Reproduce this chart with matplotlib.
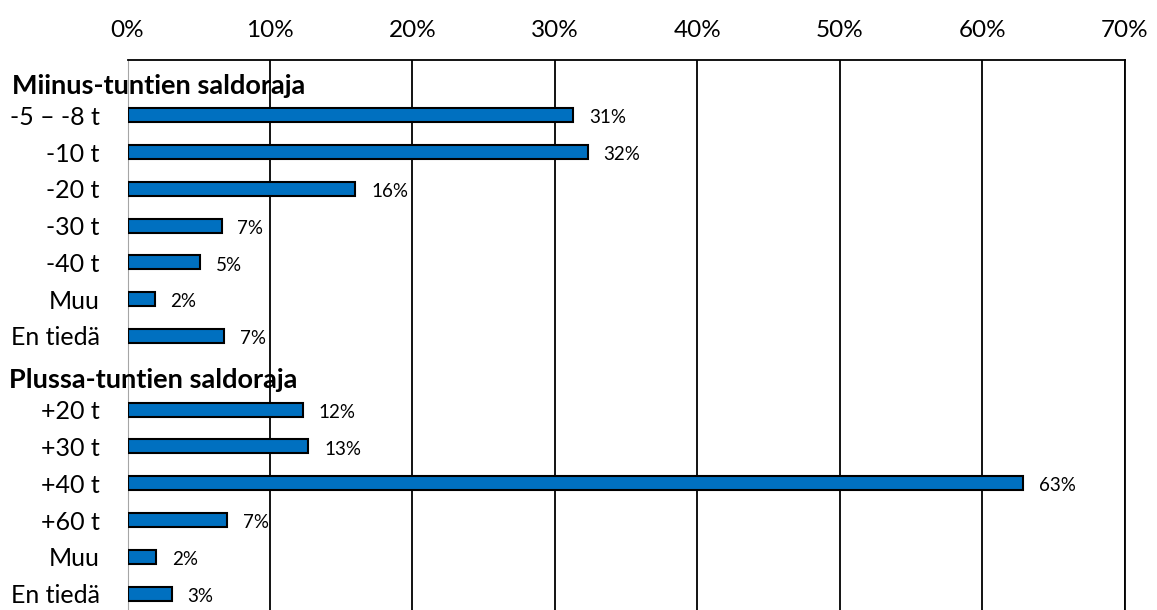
import matplotlib
matplotlib.use("Agg")
import matplotlib.pyplot as plt
from matplotlib.transforms import blended_transform_factory

plt.rcParams['font.family'] = 'Lato'

# rivit ylhäältä alas, otsikkorivit ilman palkkia
categories = ["Miinus-tuntien saldoraja", "-5 – -8 t", "-10 t", "-20 t", "-30 t", "-40 t",
              "Muu", "En tiedä", "Plussa-tuntien saldoraja", "+20 t", "+30 t", "+40 t",
              "+60 t", "Muu", "En tiedä"]
values = [None, 31.3, 32.3, 16.0, 6.6, 5.1, 1.9, 6.8, None, 12.3, 12.7, 62.9, 7.0, 2.0, 3.1]
headers = {0: 12, 8: 9}   # rivi -> vasen reuna pikseleinä
xticks = [0, 10, 20, 30, 40, 50, 60, 70]

fig = plt.figure(figsize=(11.57, 6.10), dpi=100)
ax = fig.add_axes([127.5 / 1157, -2 / 610, 997 / 1157, 552 / 610])

rows = [i for i, v in enumerate(values) if v is not None]
vals = [values[i] for i in rows]
ax.barh(rows, vals, height=0.38, color="#0070C0", edgecolor="black", linewidth=1.5, zorder=3)

for r, v in zip(rows, vals):
    ax.annotate(f"{v:.0f}%", (v, r), xytext=(11.5, -2), textcoords="offset points",
                va="center", ha="left", fontsize=13.5, zorder=4)

trans = blended_transform_factory(fig.transFigure, ax.transData)
for r, px in headers.items():
    ax.text(px / 1157, r + 0.2, categories[r], transform=trans, fontsize=19.5,
            fontweight="bold", va="center", ha="left", zorder=5)

ax.set_xlim(0, 70)
ax.set_ylim(14.5, -0.5)
ax.set_xticks(xticks)
ax.set_xticklabels([f"{t}%" for t in xticks])
ax.xaxis.tick_top()
ax.tick_params(axis="x", length=0, pad=14, labelsize=17.5)
ax.set_yticks(rows)
ax.set_yticklabels([categories[i] for i in rows])
ax.tick_params(axis="y", length=0, pad=20, labelsize=18)

ax.grid(axis="x", color="black", linewidth=1.3, zorder=1)
ax.spines["bottom"].set_visible(False)
ax.spines["left"].set_color("#a6a6a6")
ax.spines["left"].set_zorder(2)
for s in ["top", "right"]:
    ax.spines[s].set_linewidth(1.3)

fig.savefig("out.png", dpi=100)
